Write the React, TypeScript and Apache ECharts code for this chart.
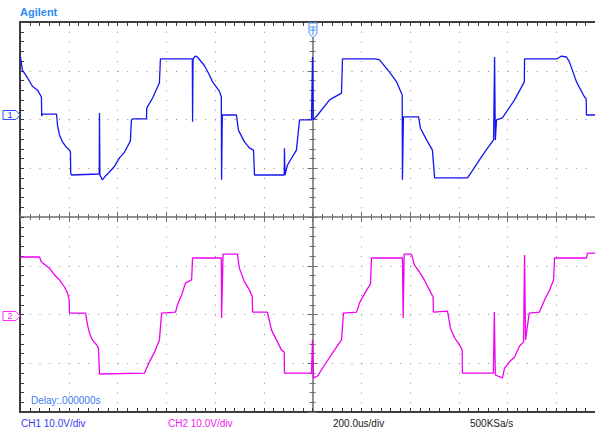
import React, { useEffect, useRef } from "react";
import * as echarts from "echarts";

// time in microseconds (0 = trigger / screen centre), voltage in volts
const timeTicks = [-1200, -1000, -800, -600, -400, -200, 0, 200, 400, 600, 800, 1000, 1200];

const ch1: [number, number][] = [
  [-1198, 11.9], [-1190, 9.2], [-1169, 7.6], [-1149, 5.9], [-1128, 5.1], [-1112, 3.7],
  [-1111, -0.2], [-1108, 0.2], [-1050, 0.2], [-1046, -2.1], [-1038, -4.1], [-1026, -5.5],
  [-1013, -6.4], [-997, -7.2], [-993, -7.6], [-992, -11.9], [-989, -12.3], [-875, -12.1],
  [-874, 0.4], [-872, -12.3], [-862, -13.3], [-849, -12.5], [-833, -11.7], [-812, -10.5],
  [-792, -8.8], [-771, -7.6], [-747, -5.3], [-743, -1.0], [-738, -0.8], [-681, -0.8],
  [-680, 1.4], [-656, 3.5], [-628, 6.6], [-624, 11.5], [-493, 11.5], [-492, -1.4],
  [-490, 11.5], [-480, 12.1], [-472, 11.9], [-443, 10.1], [-423, 8.2], [-410, 6.8],
  [-382, 4.9], [-374, 3.7], [-373, -13.3], [-370, 0], [-312, 0], [-304, -3.1],
  [-279, -5.5], [-258, -6.8], [-242, -7.2], [-238, -12.3], [-116, -12.3], [-115, -6.8],
  [-113, -12.3], [-103, -10.3], [-66, -7.2], [-53, -1.0], [-4, -1.0], [0, 11.9],
  [3, -1.0], [21, 0], [70, 3.1], [119, 4.5], [123, 11.5], [258, 11.5], [275, 11.3],
  [316, 8.8], [345, 6.8], [368, 4.1], [369, -13.3], [373, -0.4], [435, -0.4],
  [443, -2.7], [468, -5.1], [492, -7.2], [501, -12.9], [636, -12.9], [652, -11.7],
  [685, -9.2], [718, -6.8], [743, -5.1], [747, 11.9], [750, -5.1], [755, -1.0],
  [779, -0.6], [829, 3.1], [869, 6.8], [870, 11.5], [1001, 11.5], [1022, 12.1],
  [1042, 11.9], [1054, 10.9], [1083, 6.8], [1116, 3.7], [1123, 3.3], [1124, 0], [1200, 0],
];

const ch2: [number, number][] = [
  [-1198, 12.1], [-1120, 12.1], [-1112, 11.1], [-1079, 9.8], [-1058, 8.4], [-1038, 7.4],
  [-1017, 5.9], [-1005, 4.7], [-998, 3.3], [-997, 0.6], [-931, 0.6], [-923, -1.8],
  [-915, -3.5], [-903, -4.9], [-886, -5.9], [-878, -6.6], [-874, -11.9], [-689, -11.7],
  [-669, -9.4], [-648, -7.4], [-628, -4.9], [-619, 0.6], [-562, 0.8], [-554, 2.3],
  [-537, 4.3], [-521, 6.8], [-496, 7.4], [-492, 11.9], [-374, 11.9], [-373, -0.4],
  [-367, 12.7], [-308, 12.7], [-300, 9.8], [-279, 7.0], [-258, 5.3], [-247, 3.9],
  [-246, 0.8], [-185, 0.8], [-168, -2.9], [-148, -4.9], [-127, -7.0], [-116, -7.4],
  [-115, -11.7], [-4, -11.7], [0, -4.9], [4, -12.7], [21, -12.3], [49, -10.1],
  [90, -7.0], [119, -4.9], [127, 0.6], [181, 0.8], [193, 2.7], [217, 4.9], [238, 6.6],
  [242, 11.9], [369, 11.9], [372, -0.4], [376, 12.7], [406, 12.7], [418, 10.5],
  [439, 9.0], [459, 7.4], [480, 5.3], [495, 3.9], [496, 0.8], [554, 1.0], [566, -2.5],
  [583, -4.5], [603, -5.9], [614, -7.0], [615, -11.7], [742, -11.7], [746, 0.8],
  [750, -12.1], [779, -12.7], [788, -10.7], [808, -9.4], [829, -8.4], [849, -6.2],
  [866, -5.3], [870, 12.5], [874, -4.9], [889, 0.6], [931, 0.8], [952, 3.3], [972, 5.3],
  [989, 7.4], [993, 11.9], [1124, 11.9], [1128, 12.9], [1200, 12.9],
];

// channel vertical ranges (10 V/div, 8 divisions), ground offsets as on screen
const ch1Range = [-60.92, 19.08];
const ch2Range = [-19.69, 60.31];

const statusTexts = ["CH1 10.0V/div", "CH2 10.0V/div", "200.0us/div", "500KSa/s"];

const BORDER = "#3c3c3c";
const CROSS = "#6e6e6e";
const DOT = "#8c8c8c";
const BLUE = "#1414f0";
const MAGENTA = "#f000f0";

export default function App() {
  const ref = useRef<HTMLDivElement>(null);
  useEffect(() => {
    if (!ref.current) return;
    const chart = echarts.init(ref.current, null, { renderer: "svg" });
    const gl = 20, gt = 22, gw = 585, gh = 390;
    const baseX = {
      type: "value" as const,
      min: timeTicks[0],
      max: timeTicks[timeTicks.length - 1],
      interval: 200,
      axisLabel: { show: false },
      splitLine: { show: false },
    };
    const baseY = {
      type: "value" as const,
      min: -4,
      max: 4,
      interval: 1,
      axisLabel: { show: false },
      splitLine: { show: false },
    };
    chart.setOption({
      animation: false,
      backgroundColor: "#ffffff",
      grid: { left: gl, top: gt, width: gw, height: gh, containLabel: false, outerBoundsMode: "none" },
      xAxis: [
        {
          ...baseX,
          position: "bottom",
          axisLine: { show: true, onZero: false, lineStyle: { color: BORDER, width: 2 } },
          axisTick: { show: true, inside: true, length: 4, lineStyle: { color: BORDER } },
          minorTick: { show: true, splitNumber: 5, length: 4, lineStyle: { color: BORDER } },
          splitLine: { show: true, lineStyle: { color: DOT, width: 1, type: [1, 8.75] } },
        },
        {
          ...baseX,
          position: "top",
          axisLine: { show: true, onZero: false, lineStyle: { color: BORDER, width: 2 } },
          axisTick: { show: true, inside: true, length: 4, lineStyle: { color: BORDER } },
          minorTick: { show: true, splitNumber: 5, length: 4, lineStyle: { color: BORDER } },
        },
        {
          ...baseX,
          position: "bottom",
          offset: -gh / 2,
          axisLine: { show: true, onZero: false, lineStyle: { color: CROSS, width: 1.5 } },
          axisTick: { show: true, inside: true, length: 5, lineStyle: { color: CROSS } },
          minorTick: { show: true, splitNumber: 5, length: 3, lineStyle: { color: CROSS } },
        },
        {
          ...baseX,
          position: "top",
          offset: -gh / 2,
          axisLine: { show: false, onZero: false },
          axisTick: { show: true, inside: true, length: 5, lineStyle: { color: CROSS } },
          minorTick: { show: true, splitNumber: 5, length: 3, lineStyle: { color: CROSS } },
        },
      ],
      yAxis: [
        {
          ...baseY,
          position: "left",
          axisLine: { show: true, onZero: false, lineStyle: { color: BORDER, width: 2 } },
          axisTick: { show: true, inside: true, length: 4, lineStyle: { color: BORDER } },
          minorTick: { show: true, splitNumber: 5, length: 4, lineStyle: { color: BORDER } },
          splitLine: { show: true, lineStyle: { color: DOT, width: 1, type: [1, 8.75] } },
        },
        { type: "value", min: ch1Range[0], max: ch1Range[1], show: false, axisLine: { onZero: false } },
        { type: "value", min: ch2Range[0], max: ch2Range[1], show: false, axisLine: { onZero: false } },
        {
          ...baseY,
          position: "left",
          offset: -292.5,
          axisLine: { show: true, onZero: false, lineStyle: { color: CROSS, width: 1.5 } },
          axisTick: { show: true, inside: true, length: 5, lineStyle: { color: CROSS } },
          minorTick: { show: true, splitNumber: 5, length: 3, lineStyle: { color: CROSS } },
        },
        {
          ...baseY,
          position: "right",
          offset: -292.5,
          axisLine: { show: false, onZero: false },
          axisTick: { show: true, inside: true, length: 5, lineStyle: { color: CROSS } },
          minorTick: { show: true, splitNumber: 5, length: 3, lineStyle: { color: CROSS } },
        },
      ],
      series: [
        {
          name: "CH1",
          type: "line",
          xAxisIndex: 0,
          yAxisIndex: 1,
          data: ch1,
          showSymbol: false,
          lineStyle: { color: BLUE, width: 1.3 },
          z: 5,
        },
        {
          name: "CH2",
          type: "line",
          xAxisIndex: 0,
          yAxisIndex: 2,
          data: ch2,
          showSymbol: false,
          lineStyle: { color: MAGENTA, width: 1.3 },
          z: 5,
        },
      ],
      graphic: [
        {
          type: "text",
          left: 20,
          top: 6,
          style: { text: "Agilent", fill: "#2a8cf0", font: "bold 11px 'Liberation Sans', Arial, sans-serif" },
        },
        {
          type: "polygon",
          shape: { points: [[3, 110.5], [16, 110.5], [20, 115], [16, 119.5], [3, 119.5]] },
          style: { fill: "#ffffff", stroke: "#3050ff", lineWidth: 1 },
          z: 50,
        },
        {
          type: "text",
          x: 10,
          y: 115,
          style: { text: "1", fill: "#2030ff", font: "9px 'Liberation Sans', Arial, sans-serif", align: "center", verticalAlign: "middle" },
          z: 51,
        },
        {
          type: "polygon",
          shape: { points: [[3, 311.5], [16, 311.5], [20, 316], [16, 320.5], [3, 320.5]] },
          style: { fill: "#ffffff", stroke: "#ff30ff", lineWidth: 1 },
          z: 50,
        },
        {
          type: "text",
          x: 10,
          y: 316,
          style: { text: "2", fill: "#ff20ff", font: "9px 'Liberation Sans', Arial, sans-serif", align: "center", verticalAlign: "middle" },
          z: 51,
        },
        {
          type: "polygon",
          shape: { points: [[309, 23], [317, 23], [317, 33], [313, 38], [309, 33]] },
          style: { fill: "#ffffff", stroke: "#4a90f0", lineWidth: 1 },
          z: 50,
        },
        { type: "line", shape: { x1: 310, y1: 27, x2: 316, y2: 27 }, style: { stroke: "#4a90f0", lineWidth: 1 }, z: 51 },
        { type: "line", shape: { x1: 310, y1: 30, x2: 316, y2: 30 }, style: { stroke: "#4a90f0", lineWidth: 1 }, z: 51 },
        { type: "line", shape: { x1: 313, y1: 27, x2: 313, y2: 35 }, style: { stroke: "#4a90f0", lineWidth: 1 }, z: 51 },
        {
          type: "text",
          left: 31,
          top: 395,
          style: { text: "Delay:.000000s", fill: "#3a7cf0", font: "10px 'Liberation Sans', Arial, sans-serif" },
          z: 50,
        },
        {
          type: "text",
          left: 21,
          top: 418,
          style: { text: statusTexts[0], fill: "#3a3af0", font: "10px 'Liberation Sans', Arial, sans-serif" },
        },
        {
          type: "text",
          left: 168,
          top: 418,
          style: { text: statusTexts[1], fill: "#f020f0", font: "10px 'Liberation Sans', Arial, sans-serif" },
        },
        {
          type: "text",
          left: 333,
          top: 418,
          style: { text: statusTexts[2], fill: "#202020", font: "10px 'Liberation Sans', Arial, sans-serif" },
        },
        {
          type: "text",
          left: 470,
          top: 418,
          style: { text: statusTexts[3], fill: "#202020", font: "10px 'Liberation Sans', Arial, sans-serif" },
        },
      ],
    });
    return () => chart.dispose();
  }, []);
  return (
    <div
      ref={ref}
      style={{ position: "absolute", left: 0, top: 0, width: 595, height: 430, background: "#ffffff" }}
    />
  );
}
